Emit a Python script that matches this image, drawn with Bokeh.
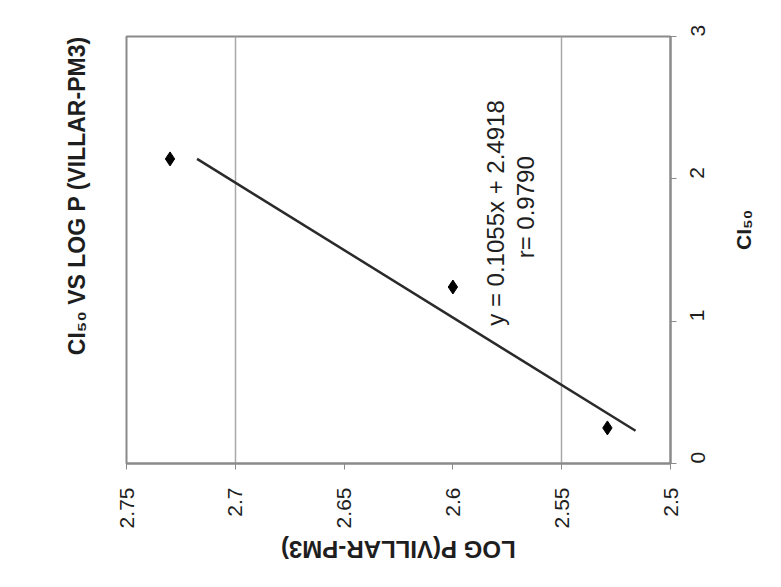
import math
from bokeh.plotting import figure
from bokeh.models import Range1d, LinearAxis, FixedTicker, Label, ColumnDataSource, Title
from bokeh.embed import file_html
from bokeh.resources import INLINE

# ---- data ----
ci50 = [2.14, 1.24, 0.25]          # CI50 values
logp = [2.730, 2.600, 2.529]       # LOG P (VILLAR-PM3)
slope = 0.1055
intercept = 2.4918
eq_text = "y = 0.1055x + 2.4918"
r_text = "r= 0.9790"
logp_ticks = [2.5, 2.55, 2.6, 2.65, 2.7, 2.75]
logp_tick_labels = ["2.5", "2.55", "2.6", "2.65", "2.7", "2.75"]
ci_ticks = [0, 1, 2, 3]
ci_tick_labels = ["0", "1", "2", "3"]
grid_ticks = [2.7, 2.55]
title_text = "CI\u2085\u2080 VS LOG P (VILLAR-PM3)"
xlabel_text = "LOG P(VILLAR-PM3)"
ylabel_text = "CI\u2085\u2080"

FONT = "Liberation Sans"
GRAY = "#8a8a8a"
TXT = "#1e1e1e"

p = figure(width=781, height=587, output_backend="svg", toolbar_location=None,
           x_range=Range1d(2.75, 2.5), y_range=Range1d(0, 3),
           min_border_left=126, min_border_right=111,
           min_border_top=36, min_border_bottom=124,
           x_axis_location="below", y_axis_location=None)
p.background_fill_color = "white"
p.border_fill_color = "white"
p.outline_line_color = GRAY
p.outline_line_width = 2

# bottom axis (LOG P), labels rotated
xa = p.xaxis[0]
xa.ticker = FixedTicker(ticks=logp_ticks)
xa.major_label_overrides = {t: s for t, s in zip(logp_ticks, logp_tick_labels)}
xa.major_label_orientation = math.pi / 2
xa.major_label_text_font = FONT
xa.major_label_text_font_size = "21px"
xa.major_label_text_color = TXT
xa.major_label_standoff = 18
xa.axis_line_color = GRAY
xa.axis_line_width = 2
xa.major_tick_line_color = GRAY
xa.major_tick_in = 0
xa.major_tick_out = 6
xa.minor_tick_line_color = None

# axis title for LOG P: upside-down text held by a second, line-less bottom axis.
# Its single tick only anchors the text so that it sits centred under the frame.
xlabel_anchor = 2.679
xa2 = LinearAxis(ticker=FixedTicker(ticks=[xlabel_anchor]))
xa2.major_label_overrides = {xlabel_anchor: xlabel_text}
xa2.major_label_orientation = math.pi
xa2.major_label_text_font = FONT
xa2.major_label_text_font_size = "24px"
xa2.major_label_text_font_style = "bold"
xa2.major_label_text_color = TXT
xa2.major_label_standoff = 18
xa2.axis_line_color = None
xa2.major_tick_line_color = None
xa2.minor_tick_line_color = None
xa2.major_tick_in = 0
xa2.major_tick_out = 0
p.add_layout(xa2, "below")

# right axis (CI50)
ya = LinearAxis(ticker=FixedTicker(ticks=ci_ticks))
ya.major_label_overrides = {t: s for t, s in zip(ci_ticks, ci_tick_labels)}
ya.major_label_orientation = math.pi / 2
ya.major_label_text_font = FONT
ya.major_label_text_font_size = "21px"
ya.major_label_text_color = TXT
ya.major_label_standoff = 21
ya.axis_line_color = GRAY
ya.axis_line_width = 2
ya.major_tick_line_color = GRAY
ya.major_tick_in = 0
ya.major_tick_out = 6
ya.minor_tick_line_color = None
ya.axis_label = ylabel_text
ya.axis_label_orientation = math.pi / 2
ya.axis_label_text_font = FONT
ya.axis_label_text_font_size = "21px"
ya.axis_label_text_font_style = "bold"
ya.axis_label_text_color = TXT
ya.axis_label_standoff = 29
p.add_layout(ya, "right")

# title on the left (reads bottom to top, ends at the frame top)
t = Title(text=title_text, align="right", text_font=FONT, text_font_size="23px",
          text_font_style="bold", text_color=TXT, standoff=73)
p.add_layout(t, "left")

p.xgrid.ticker = FixedTicker(ticks=grid_ticks)
p.xgrid.grid_line_color = "#a8a8a8"
p.xgrid.grid_line_width = 1.5
p.ygrid.grid_line_color = None

# trend line and points
src = ColumnDataSource(dict(ci=ci50, lp=logp))
ci_line = [min(ci50) - 0.02, max(ci50)]
lp_line = [slope * c + intercept for c in ci_line]
p.line(lp_line, ci_line, line_color="#2a2a2a", line_width=2.5)
p.scatter("lp", "ci", source=src, marker="diamond", size=14, color="black")

# equation text (rotated like the picture)
def lab(x, y, text, size, angle):
    p.add_layout(Label(x=x, y=y, text=text, angle=angle,
                       text_align="center", text_baseline="middle",
                       text_font=FONT, text_font_size=size, text_color=TXT))

lab(2.5805, 1.76, eq_text, "24px", math.pi / 2)
lab(2.5665, 1.80, r_text, "24px", math.pi / 2)

open("out.html", "w").write(file_html(p, INLINE))
